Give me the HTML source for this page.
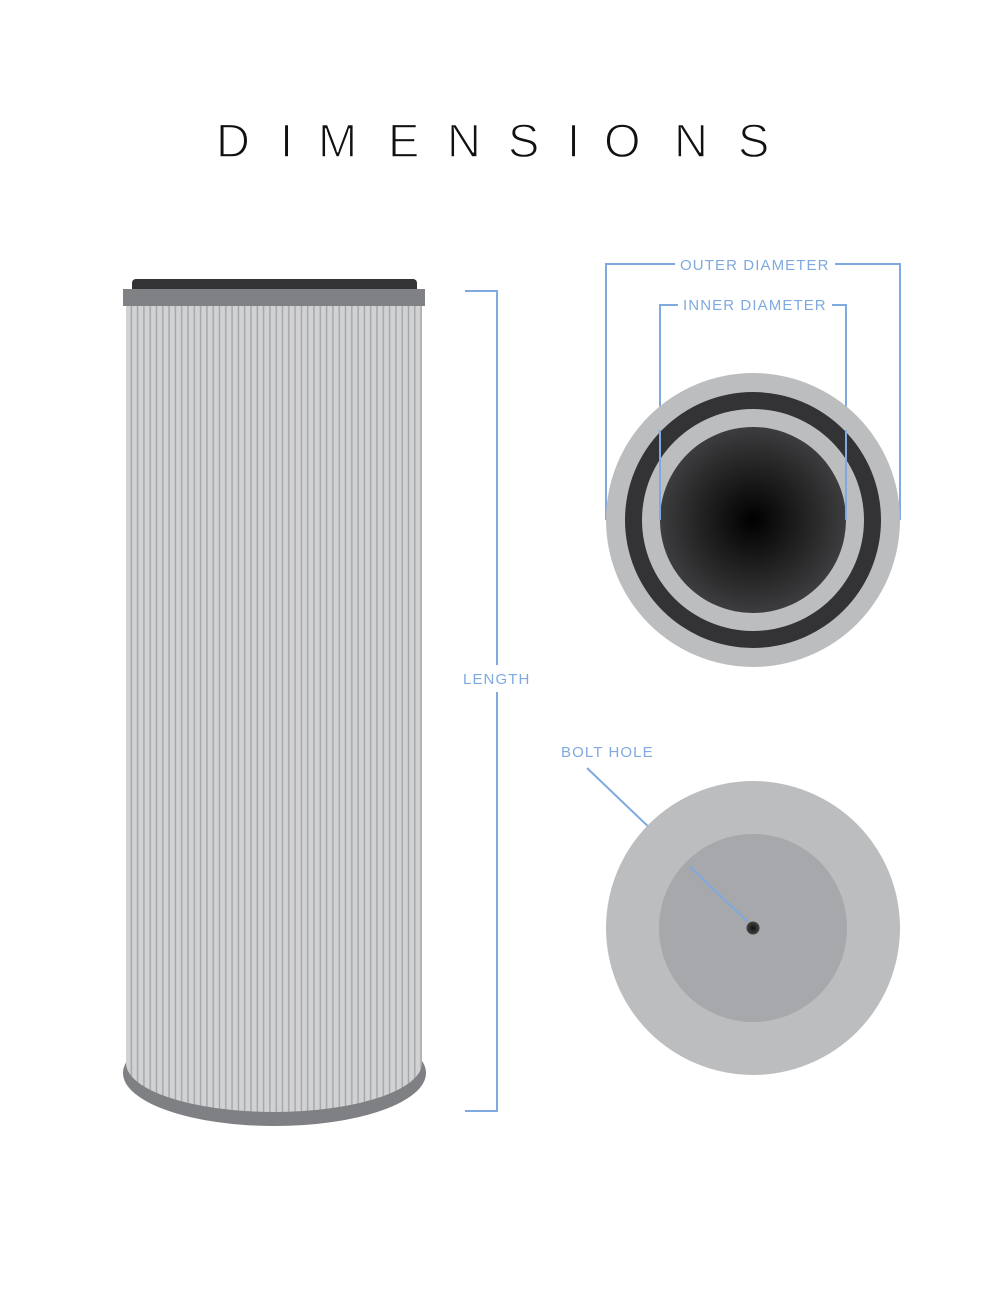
<!DOCTYPE html>
<html><head><style>html,body{margin:0;padding:0;background:#fff;}svg{display:block;}</style></head>
<body>
<svg width="1000" height="1294" viewBox="0 0 1000 1294" xmlns="http://www.w3.org/2000/svg">
<defs>
<pattern id="pl" x="126" y="0" width="6.3" height="10" patternUnits="userSpaceOnUse">
<rect width="6.3" height="10" fill="#d1d2d4"/>
<rect x="4.6" width="1.4" height="10" fill="#a4a5a8"/>
</pattern>
<radialGradient id="rg" cx="0.5" cy="0.5" r="0.5">
<stop offset="0" stop-color="#000"/>
<stop offset="1" stop-color="#3d3d3f"/>
</radialGradient>
<radialGradient id="hg" cx="0.5" cy="0.5" r="0.5">
<stop offset="0" stop-color="#111"/>
<stop offset="1" stop-color="#444"/>
</radialGradient>
</defs>
<g font-family="Liberation Sans, sans-serif" font-size="47" fill="#111" stroke="#fff" stroke-width="1.4">
<text x="216" y="157">D</text><text x="280" y="157">I</text><text x="318" y="157">M</text><text x="388" y="157">E</text><text x="447" y="157">N</text><text x="508" y="157">S</text><text x="567" y="157">I</text><text x="604" y="157">O</text><text x="674" y="157">N</text><text x="738" y="157">S</text>
</g>
<ellipse cx="274.5" cy="1073" rx="151.5" ry="53" fill="#7f8083"/>
<path d="M126 306 H422 V1063 A148 49 0 0 1 126 1063 Z" fill="url(#pl)"/>
<rect x="132" y="279" width="285" height="14" rx="4" fill="#333335"/>
<rect x="123" y="289" width="302" height="17" fill="#808184"/>
<g stroke="#7fa9df" stroke-width="2" fill="none">
<path d="M465 291 H497 V665 M497 692 V1111 H465"/>
<path d="M606 520 V264 H675 M835 264 H900 V520"/>
<path d="M660 520 V305 H678 M832 305 H846 V520"/>
<path d="M587 768 L748 922"/>
</g>
<g font-family="Liberation Sans, sans-serif" font-size="15" fill="#7fa9df" letter-spacing="1.1">
<text x="680" y="270">OUTER DIAMETER</text>
<text x="683" y="310">INNER DIAMETER</text>
<text x="463" y="684">LENGTH</text>
<text x="561" y="757">BOLT HOLE</text>
</g>
<circle cx="753" cy="520" r="147" fill="#bcbdbf"/>
<circle cx="753" cy="520" r="128" fill="#333335"/>
<circle cx="753" cy="520" r="111" fill="#bcbdbf"/>
<circle cx="753" cy="520" r="93" fill="url(#rg)"/>
<path d="M660 430 V520 M846 430 V520" stroke="#7fa9df" stroke-width="2"/>
<circle cx="753" cy="928" r="147" fill="#bcbdbf"/>
<circle cx="753" cy="928" r="94" fill="#a7a8ab"/>
<path d="M690 867 L748 922" stroke="#7fa9df" stroke-width="2"/>
<circle cx="753" cy="928" r="6.5" fill="url(#hg)"/>
</svg>
</body></html>
